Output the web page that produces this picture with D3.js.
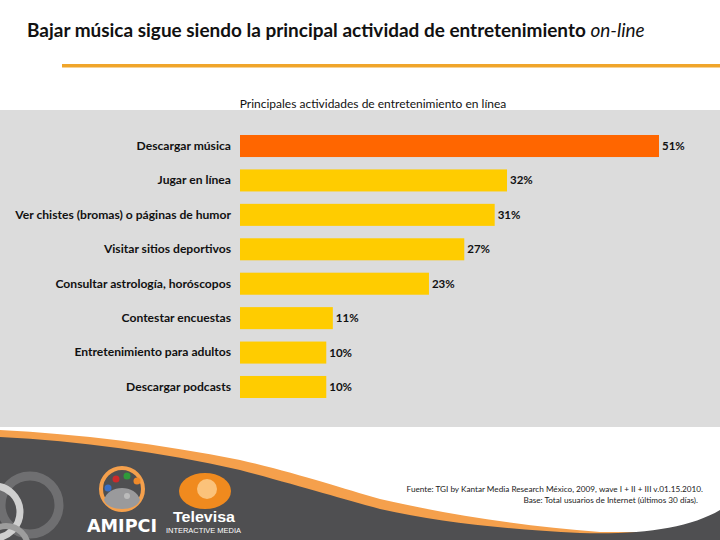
<!DOCTYPE html>
<html><head><meta charset="utf-8">
<script src="https://cdn.jsdelivr.net/npm/d3@7"></script>
<style>html,body{margin:0;padding:0;background:#fff;}svg{display:block;}</style>
</head><body>
<script>
const title = "Bajar música sigue siendo la principal actividad de entretenimiento ";
const titleItalic = "on-line";
const subtitle = "Principales actividades de entretenimiento en línea";
const categories = ["Descargar música","Jugar en línea","Ver chistes (bromas) o páginas de humor","Visitar sitios deportivos","Consultar astrología, horóscopos","Contestar encuestas","Entretenimiento para adultos","Descargar podcasts"];
const values = [51, 32.5, 31, 27.3, 23, 11.3, 10.5, 10.5];
const valueLabels = ["51%","32%","31%","27%","23%","11%","10%","10%"];
const sourceLines = ["Fuente: TGI by Kantar Media Research México, 2009, wave I + II + III v.01.15.2010.","Base: Total usuarios de Internet (últimos 30 días)."];

const W = 720, H = 540;
const font = "Lato, 'Open Sans', sans-serif";
const svg = d3.select("body").append("svg").attr("width", W).attr("height", H);

// Title
const t = svg.append("text").attr("x", 27).attr("y", 37).attr("font-family", font)
  .attr("font-size", 18).attr("font-weight", 700).attr("fill", "#111");
t.append("tspan").text(title);
t.append("tspan").attr("font-style", "italic").attr("font-weight", 400).text(titleItalic);
const tw = t.node().getComputedTextLength();
t.attr("font-size", 18 * 618 / tw);

// Orange rule
svg.append("rect").attr("x", 62).attr("y", 64).attr("width", W - 62).attr("height", 3.5).attr("fill", "#f0a52a");

// Gray panel
svg.append("rect").attr("x", 0).attr("y", 110).attr("width", W).attr("height", 317).attr("fill", "#dcdcdc");

// Subtitle
const st = svg.append("text").attr("x", 373).attr("y", 108).attr("text-anchor", "middle")
  .attr("font-family", font).attr("font-size", 11).attr("fill", "#111").text(subtitle);
st.attr("font-size", 11 * 267 / st.node().getComputedTextLength());

// Scales
const x = d3.scaleLinear().domain([0, 51]).range([240, 659]);
const y = d3.scaleBand().domain(categories).range([128.8, 404.2]).paddingInner(0.36).paddingOuter(0.18);

const g = svg.append("g");
g.selectAll("rect.bar").data(categories).join("rect").attr("class", "bar")
  .attr("x", x(0)).attr("y", d => y(d))
  .attr("width", (d, i) => x(values[i]) - x(0)).attr("height", y.bandwidth())
  .attr("fill", (d, i) => i === 0 ? "#ff6600" : "#ffcc00");

// Category axis
const yAxis = d3.axisLeft(y).tickSize(0).tickPadding(9);
const ax = svg.append("g").attr("transform", `translate(${x(0)},0)`).call(yAxis);
ax.select(".domain").remove();
ax.selectAll("text").attr("font-family", font).attr("font-size", 12).attr("font-weight", 700).attr("fill", "#111");
let maxW = 0;
ax.selectAll("text").each(function(){ maxW = Math.max(maxW, this.getComputedTextLength()); });
ax.selectAll("text").attr("font-size", 12 * 216 / maxW);

// Value labels
g.selectAll("text.val").data(categories).join("text").attr("class", "val")
  .attr("x", (d, i) => x(values[i]) + 3).attr("y", d => y(d) + y.bandwidth() / 2)
  .attr("dy", "0.35em").attr("font-family", font).attr("font-size", 11.5).attr("font-weight", 700)
  .attr("fill", "#111").text((d, i) => valueLabels[i]);

// Footer decoration
const foot = svg.append("g");
foot.append("path").attr("fill", "#f5a04c")
  .attr("d", "M0,430 C80,434 160,444 240,460 C300,474 340,488 380,499 C440,513 520,526 600,532 L720,532 L720,540 L0,540 Z");
foot.append("path").attr("fill", "#4f4f51")
  .attr("d", "M0,437 C80,441 160,452 240,470 C300,486 340,498 380,509 C440,522 500,529 580,533 C640,535 690,528 720,510 L720,540 L0,540 Z");
// rings at left
foot.append("circle").attr("cx", 30).attr("cy", 505).attr("r", 29).attr("fill", "none").attr("stroke", "#6f6f71").attr("stroke-width", 9);
foot.append("circle").attr("cx", -6).attr("cy", 512).attr("r", 26).attr("fill", "none").attr("stroke", "#cfcfcf").attr("stroke-width", 7);
foot.append("circle").attr("cx", 6).attr("cy", 548).attr("r", 22).attr("fill", "none").attr("stroke", "#9d9d9d").attr("stroke-width", 6);
// AMIPCI logo
foot.append("circle").attr("cx", 122).attr("cy", 489).attr("r", 21).attr("fill", "none").attr("stroke", "#f5a04c").attr("stroke-width", 4);
foot.append("path").attr("fill", "#9a9a9c").attr("d", "M104,500 C108,484 136,484 140,500 C136,512 108,512 104,500 Z");
foot.append("circle").attr("cx", 127).attr("cy", 496).attr("r", 3).attr("fill", "#bbbbbb");
[[108,488,"#3b6fc4"],[116,479,"#cc2a2a"],[127,476,"#2f9a3a"],[137,481,"#f08a2a"]].forEach(c =>
  foot.append("circle").attr("cx", c[0]).attr("cy", c[1]).attr("r", 3.5).attr("fill", c[2]));
foot.append("text").attr("x", 87).attr("y", 532).attr("font-family", "'DejaVu Sans', sans-serif").attr("font-weight", 700)
  .attr("font-size", 18).attr("fill", "#fff").attr("textLength", 70).attr("lengthAdjust", "spacingAndGlyphs").text("AMIPCI");
// Televisa logo
foot.append("ellipse").attr("cx", 205).attr("cy", 491).attr("rx", 26).attr("ry", 18).attr("fill", "#f08a1e");
foot.append("circle").attr("cx", 207).attr("cy", 489).attr("r", 10).attr("fill", "#fbc27a");
foot.append("text").attr("x", 173).attr("y", 522).attr("font-family", "'Liberation Sans', sans-serif").attr("font-weight", 700)
  .attr("font-size", 15).attr("fill", "#fff").attr("textLength", 62).attr("lengthAdjust", "spacingAndGlyphs").text("Televisa");
foot.append("text").attr("x", 166).attr("y", 533).attr("font-family", "'Liberation Sans', sans-serif")
  .attr("font-size", 7).attr("fill", "#fff").attr("textLength", 75).attr("lengthAdjust", "spacingAndGlyphs").text("INTERACTIVE MEDIA");

// Source text
const srcX = [703, 698], srcY = [492, 503];
sourceLines.forEach((s, i) => {
  foot.append("text").attr("x", srcX[i]).attr("y", srcY[i]).attr("text-anchor", "end")
    .attr("font-family", font).attr("font-size", 8.2).attr("fill", "#222").text(s);
});
</script>
</body></html>
